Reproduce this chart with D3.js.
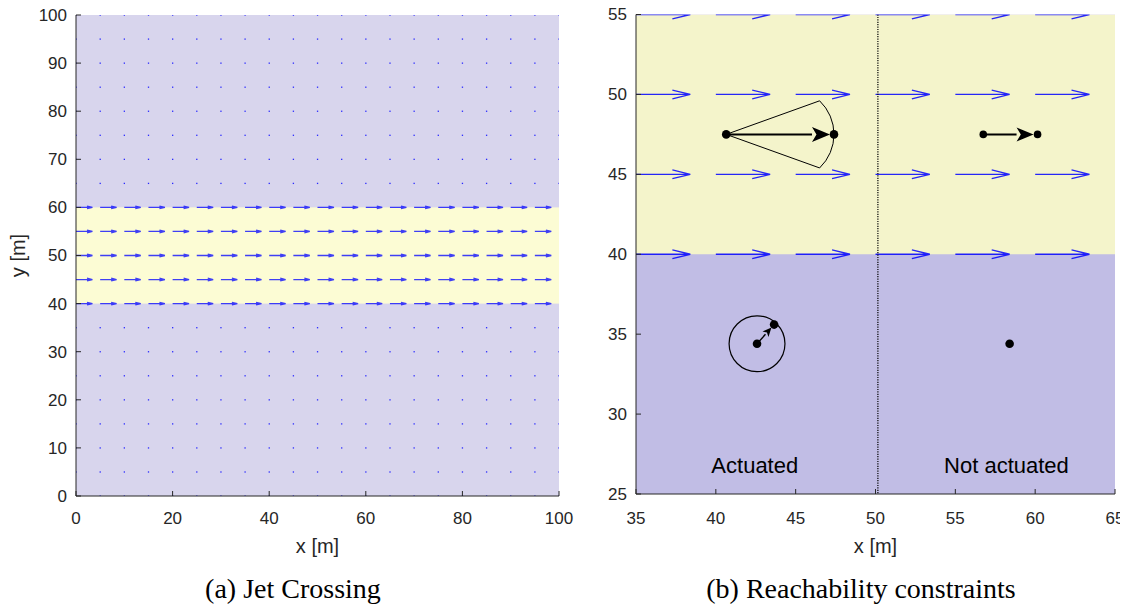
<!DOCTYPE html>
<html>
<head>
<meta charset="utf-8">
<script src="https://cdn.jsdelivr.net/npm/d3@7"></script>
<style>
body { margin: 0; background: #fff; }
text { font-family: "Liberation Sans", Arial, sans-serif; fill: #262626; }
.cap { font-family: "Liberation Serif", "Times New Roman", serif; fill: #000; }
</style>
</head>
<body>
<svg width="1132" height="607"></svg>
<script>
var svg = d3.select("svg");

// left plot: jet crossing
var jetGridX = [0,5,10,15,20,25,30,35,40,45,50,55,60,65,70,75,80,85,90,95,100];
var jetGridY = [0,5,10,15,20,25,30,35,40,45,50,55,60,65,70,75,80,85,90,95,100];
var jetRows = [40,45,50,55,60];
var jetBand = [40, 60];
var jetSpeed = 3.4;
var leftTicksX = [0,20,40,60,80,100];
var leftTicksY = [0,10,20,30,40,50,60,70,80,90,100];

// right plot: reachability
var rGridX = [35,40,45,50,55,60,65];
var rGridY = [40,45,50,55];
var rBand = [40, 55];
var rightTicksX = [35,40,45,50,55,60,65];
var rightTicksY = [25,30,35,40,45,50,55];
var divider = 50.15;
var fanStart = [40.65, 47.5], fanEnd = [47.4, 47.5];
var fanCorners = [[46.5, 49.6], [46.5, 45.4]];
var driftStart = [56.75, 47.5], driftEnd = [60.15, 47.5];
var circCenter = [42.58, 34.4], circRadius = 1.75, circEnd = [43.65, 35.6];
var loneDot = [58.4, 34.4];
var labels = [{t: "Actuated", x: 42.44, y: 26.3}, {t: "Not actuated", x: 58.2, y: 26.3}];

var axisCol = "#262626";

function drawAxes(g, x, y, tx, ty, xlab, ylab) {
  var x0 = x.range()[0], y0 = y.range()[0];
  g.append("line").attr("x1", x0).attr("x2", x.range()[1]).attr("y1", y0).attr("y2", y0)
    .attr("stroke", axisCol);
  g.append("line").attr("x1", x0).attr("x2", x0).attr("y1", y0).attr("y2", y.range()[1])
    .attr("stroke", axisCol);
  tx.forEach(function(v) {
    g.append("line").attr("x1", x(v)).attr("x2", x(v)).attr("y1", y0).attr("y2", y0 - 5).attr("stroke", axisCol);
    g.append("text").attr("x", x(v)).attr("y", 524).attr("text-anchor", "middle")
      .style("font-size", "17px").text(v);
  });
  ty.forEach(function(v) {
    g.append("line").attr("x1", x0).attr("x2", x0 + 5).attr("y1", y(v)).attr("y2", y(v)).attr("stroke", axisCol);
    g.append("text").attr("x", x0 - 9).attr("y", y(v)).attr("dy", "0.35em").attr("text-anchor", "end")
      .style("font-size", "17px").text(v);
  });
  g.append("text").attr("x", (x.range()[0] + x.range()[1]) / 2).attr("y", 553)
    .attr("text-anchor", "middle").style("font-size", "20px").text(xlab);
  if (ylab) {
    g.append("text").attr("transform", "translate(25," + ((y.range()[0] + y.range()[1]) / 2) + ") rotate(-90)")
      .attr("text-anchor", "middle").style("font-size", "20px").text(ylab);
  }
}

// quiver-style arrow, open head a third of the length
function quiver(g, x, y, px, py, u, col, w, op) {
  var x1 = x(px), y1 = y(py), x2 = x(px + u);
  var L = x2 - x1, hl = L * 0.33, hw = L * 0.08;
  g.append("path")
    .attr("d", "M" + x1 + "," + y1 + "H" + x2 + "M" + (x2 - hl) + "," + (y1 - hw) + "L" + x2 + "," + y1 + "L" + (x2 - hl) + "," + (y1 + hw))
    .attr("fill", "none").attr("stroke", col).attr("stroke-width", w).attr("opacity", op);
}

// ---------- left ----------
var xL = d3.scaleLinear().domain([0, 100]).range([76, 559]);
var yL = d3.scaleLinear().domain([0, 100]).range([496, 15]);
var gL = svg.append("g");
svg.append("clipPath").attr("id", "clipL").append("rect")
  .attr("x", 76).attr("y", 15).attr("width", 483).attr("height", 481);
var pL = gL.append("g").attr("clip-path", "url(#clipL)");
pL.append("rect").attr("x", 76).attr("y", 15).attr("width", 483).attr("height", 481).attr("fill", "#d8d5ed");
pL.append("rect").attr("x", 76).attr("y", yL(jetBand[1])).attr("width", 483)
  .attr("height", yL(jetBand[0]) - yL(jetBand[1])).attr("fill", "#fcfcd4");
jetGridY.forEach(function(gy) {
  jetGridX.forEach(function(gx) {
    if (jetRows.indexOf(gy) >= 0) {
      quiver(pL, xL, yL, gx, gy, jetSpeed, "#0000ff", 1.3, 0.75);
    } else {
      pL.append("rect").attr("x", xL(gx) - 0.6).attr("y", yL(gy) - 0.6)
        .attr("width", 1.3).attr("height", 1.3).attr("fill", "#2a2aff");
    }
  });
});
drawAxes(gL, xL, yL, leftTicksX, leftTicksY, "x [m]", "y [m]");

// ---------- right ----------
var xR = d3.scaleLinear().domain([35, 65]).range([636, 1115]);
var yR = d3.scaleLinear().domain([25, 55]).range([494, 14.5]);
var gR = svg.append("g");
svg.append("clipPath").attr("id", "clipR").append("rect")
  .attr("x", 636).attr("y", 14.5).attr("width", 479).attr("height", 479.5);
var pR = gR.append("g").attr("clip-path", "url(#clipR)");
pR.append("rect").attr("x", 636).attr("y", 14.5).attr("width", 479).attr("height", 479.5).attr("fill", "#c1bde5");
pR.append("rect").attr("x", 636).attr("y", yR(rBand[1])).attr("width", 479)
  .attr("height", yR(rBand[0]) - yR(rBand[1])).attr("fill", "#f4f4cb");
rGridY.forEach(function(gy) {
  rGridX.forEach(function(gx) {
    quiver(pR, xR, yR, gx, gy, jetSpeed, "#0000ff", 1.3, 0.85);
  });
});
pR.append("line").attr("x1", xR(divider)).attr("x2", xR(divider)).attr("y1", yR(55)).attr("y2", yR(25))
  .attr("stroke", "#000").attr("stroke-width", 1.2).attr("stroke-dasharray", "1.2,1.2");

// fan (reachable set with current)
var s = [xR(fanStart[0]), yR(fanStart[1])];
var e = [xR(fanEnd[0]), yR(fanEnd[1])];
var c1 = [xR(fanCorners[0][0]), yR(fanCorners[0][1])];
var c2 = [xR(fanCorners[1][0]), yR(fanCorners[1][1])];
// circle through corner, end, corner (centre on the horizontal axis of the fan)
var a = ((e[0] * e[0] - c1[0] * c1[0]) - Math.pow(c1[1] - e[1], 2)) / (2 * (e[0] - c1[0]));
var rad = e[0] - a;
pR.append("path")
  .attr("d", "M" + s + "L" + c1 + "A" + rad + "," + rad + " 0 0 1 " + c2 + "Z")
  .attr("fill", "none").attr("stroke", "#000").attr("stroke-width", 1);

function bigArrow(p0, p1, w, hl, hw) {
  var dx = p1[0] - p0[0], dy = p1[1] - p0[1], L = Math.sqrt(dx * dx + dy * dy);
  var ux = dx / L, uy = dy / L;
  var tip = [p1[0] - ux * 4, p1[1] - uy * 4];
  var base = [tip[0] - ux * hl, tip[1] - uy * hl];
  pR.append("line").attr("x1", p0[0]).attr("y1", p0[1]).attr("x2", base[0]).attr("y2", base[1])
    .attr("stroke", "#000").attr("stroke-width", w);
  pR.append("path")
    .attr("d", "M" + tip + "L" + (base[0] - uy * hw) + "," + (base[1] + ux * hw) +
      "L" + (base[0] + ux * hl * 0.25) + "," + (base[1] + uy * hl * 0.25) +
      "L" + (base[0] + uy * hw) + "," + (base[1] - ux * hw) + "Z")
    .attr("fill", "#000");
}
function dot(p, r) {
  pR.append("circle").attr("cx", p[0]).attr("cy", p[1]).attr("r", r).attr("fill", "#000");
}
bigArrow(s, e, 2, 18, 7.5);
dot(s, 4.3); dot(e, 4.3);

var d0 = [xR(driftStart[0]), yR(driftStart[1])], d1 = [xR(driftEnd[0]), yR(driftEnd[1])];
bigArrow(d0, d1, 2, 17, 7);
dot(d0, 3.8); dot(d1, 3.8);

var cc = [xR(circCenter[0]), yR(circCenter[1])], ce = [xR(circEnd[0]), yR(circEnd[1])];
pR.append("circle").attr("cx", cc[0]).attr("cy", cc[1]).attr("r", xR(circCenter[0] + circRadius) - cc[0])
  .attr("fill", "none").attr("stroke", "#000").attr("stroke-width", 1.2);
bigArrow(cc, ce, 1.4, 9, 4);
dot(cc, 4.3); dot(ce, 4.3);

dot([xR(loneDot[0]), yR(loneDot[1])], 4.3);

labels.forEach(function(l) {
  pR.append("text").attr("x", xR(l.x)).attr("y", 473).attr("text-anchor", "middle")
    .style("font-size", "22px").style("fill", "#000").text(l.t);
});

drawAxes(gR, xR, yR, rightTicksX, rightTicksY, "x [m]", null);

// the original figure is cropped just past the last tick
svg.append("rect").attr("x", 1120).attr("y", 0).attr("width", 12).attr("height", 607).attr("fill", "#fff");

// captions
svg.append("text").attr("class", "cap").attr("x", 293).attr("y", 598).attr("text-anchor", "middle")
  .style("font-size", "28px").text("(a) Jet Crossing");
svg.append("text").attr("class", "cap").attr("x", 861).attr("y", 598).attr("text-anchor", "middle")
  .style("font-size", "28px").text("(b) Reachability constraints");
</script>
</body>
</html>
